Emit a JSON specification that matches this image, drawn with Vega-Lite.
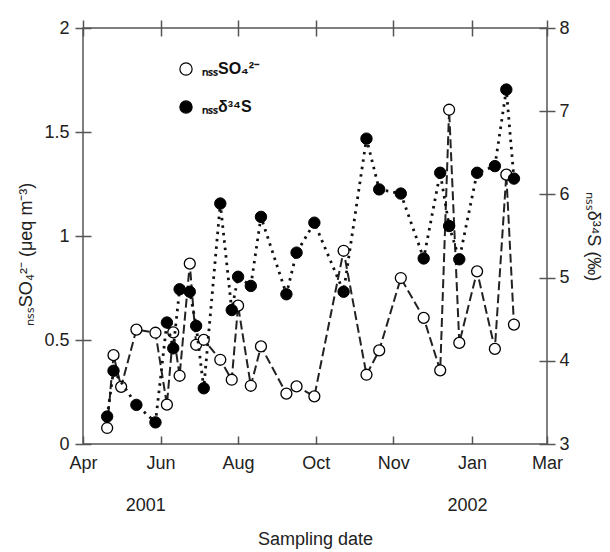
{
  "$schema": "https://vega.github.io/schema/vega-lite/v6.json",
  "width": 464,
  "height": 416,
  "autosize": {"type": "none"},
  "padding": {"left": 83, "top": 28, "right": 63, "bottom": 108},
  "background": "white",
  "config": {
    "font": "Liberation Sans",
    "view": {"stroke": "#555", "strokeWidth": 1.5},
    "axis": {
      "labelFont": "Liberation Sans",
      "labelFontSize": 18,
      "labelColor": "#222",
      "tickColor": "#555",
      "tickWidth": 1.5,
      "domain": false,
      "grid": false,
      "titleFont": "Liberation Sans",
      "titleColor": "#222",
      "titleFontWeight": "normal",
      "titleFontSize": 18
    },
    "legend": {"padding": 0}
  },
  "data": {
    "values": [
      {"date": "2001-04-20", "so4": 0.077, "d34s": 3.33},
      {"date": "2001-04-25", "so4": 0.427, "d34s": 3.88},
      {"date": "2001-05-01", "so4": 0.275, "d34s": null},
      {"date": "2001-05-13", "so4": 0.55, "d34s": 3.47},
      {"date": "2001-05-28", "so4": 0.535, "d34s": 3.26},
      {"date": "2001-06-06", "so4": 0.189, "d34s": 4.46},
      {"date": "2001-06-11", "so4": 0.537, "d34s": 4.15},
      {"date": "2001-06-16", "so4": 0.328, "d34s": 4.86},
      {"date": "2001-06-24", "so4": 0.867, "d34s": 4.83},
      {"date": "2001-06-29", "so4": 0.477, "d34s": 4.42},
      {"date": "2001-07-05", "so4": 0.501, "d34s": 3.67},
      {"date": "2001-07-18", "so4": 0.405, "d34s": 5.89},
      {"date": "2001-07-27", "so4": 0.309, "d34s": 4.61},
      {"date": "2001-08-01", "so4": 0.665, "d34s": 5.01},
      {"date": "2001-08-11", "so4": 0.28, "d34s": 4.9},
      {"date": "2001-08-19", "so4": 0.469, "d34s": 5.73},
      {"date": "2001-09-08", "so4": 0.242, "d34s": 4.8},
      {"date": "2001-09-16", "so4": 0.277, "d34s": 5.3},
      {"date": "2001-09-30", "so4": 0.229, "d34s": 5.66},
      {"date": "2001-10-23", "so4": 0.929, "d34s": 4.83},
      {"date": "2001-11-10", "so4": 0.333, "d34s": 6.67},
      {"date": "2001-11-20", "so4": 0.45, "d34s": 6.06},
      {"date": "2001-12-07", "so4": 0.798, "d34s": 6.01},
      {"date": "2001-12-25", "so4": 0.606, "d34s": 5.23},
      {"date": "2002-01-07", "so4": 0.354, "d34s": 6.26},
      {"date": "2002-01-14", "so4": 1.607, "d34s": 5.62},
      {"date": "2002-01-22", "so4": 0.486, "d34s": 5.22},
      {"date": "2002-02-05", "so4": 0.83, "d34s": 6.26},
      {"date": "2002-02-19", "so4": 0.457, "d34s": 6.34},
      {"date": "2002-02-28", "so4": 1.295, "d34s": 7.26},
      {"date": "2002-03-06", "so4": 0.574, "d34s": 6.19}
    ]
  },
  "layer": [
    {
      "layer": [
        {
          "mark": {"type": "line", "strokeDash": [9, 4], "strokeWidth": 2, "color": "#222"},
          "encoding": {
            "x": {
              "field": "date", "type": "temporal",
              "scale": {"type": "utc", "domain": [{"year": 2001, "month": 4, "date": 1, "utc": true}, {"year": 2002, "month": 4, "date": 1, "utc": true}]},
              "axis": {
                "orient": "bottom",
                "values": [
                  {"year": 2001, "month": 4, "date": 1, "utc": true},
                  {"year": 2001, "month": 6, "date": 1, "utc": true},
                  {"year": 2001, "month": 8, "date": 1, "utc": true},
                  {"year": 2001, "month": 10, "date": 1, "utc": true},
                  {"year": 2001, "month": 12, "date": 1, "utc": true},
                  {"year": 2002, "month": 2, "date": 1, "utc": true},
                  {"year": 2002, "month": 4, "date": 1, "utc": true}
                ],
                "labelExpr": "['Apr','Jun','Aug','Oct','Nov','Jan','Mar'][((utcyear(datum.value)-2001)*12+utcmonth(datum.value)-3)/2]",
                "offset": -8,
                "tickSize": 8,
                "labelPadding": 10,
                "labelFlush": false,
                "labelOverlap": false,
                "title": null
              }
            },
            "y": {
              "field": "so4", "type": "quantitative",
              "scale": {"domain": [0, 2]},
              "axis": {
                "orient": "left",
                "values": [0, 0.5, 1, 1.5, 2],
                "format": "~g",
                "offset": -8,
                "tickSize": 16,
                "labelPadding": 6,
                "labelFlush": false,
                "title": "ₙₛₛSO₄²⁻ (μeq m⁻³)",
                "titlePadding": 8,
                "titleY": 226
              }
            }
          }
        },
        {
          "mark": {"type": "point", "shape": "circle", "size": 120, "filled": true, "stroke": "black", "strokeWidth": 1.3, "opacity": 1},
          "encoding": {
            "x": {
              "field": "date", "type": "temporal",
              "axis": {
                "orient": "bottom",
                "values": [
                  {"year": 2001, "month": 5, "date": 20, "utc": true},
                  {"year": 2002, "month": 1, "date": 28, "utc": true}
                ],
                "labelExpr": "utcFormat(datum.value, '%Y')",
                "ticks": false,
                "tickSize": 0,
                "labelPadding": 52,
                "labelFlush": false,
                "title": "Sampling date",
                "titlePadding": 16
              }
            },
            "y": {"field": "so4", "type": "quantitative"},
            "fill": {
              "datum": "ₙₛₛSO₄²⁻",
              "scale": {"domain": ["ₙₛₛSO₄²⁻", "ₙₛₛδ³⁴S"], "range": ["white", "black"]},
              "legend": {
                "orient": "none",
                "legendX": 95,
                "legendY": 33,
                "title": null,
                "direction": "vertical",
                "symbolType": "circle",
                "symbolSize": 150,
                "symbolStrokeColor": "black",
                "symbolStrokeWidth": 1.2,
                "labelFont": "Liberation Sans",
                "labelFontSize": 16,
                "labelFontWeight": "bold",
                "labelColor": "#111",
                "labelOffset": 8,
                "rowPadding": 20
              }
            }
          }
        }
      ],
      "resolve": {"axis": {"x": "independent"}}
    },
    {
      "transform": [{"filter": "isValid(datum.d34s)"}],
      "layer": [
        {
          "mark": {"type": "line", "strokeDash": [2.5, 5], "strokeWidth": 2.8, "color": "#111"},
          "encoding": {
            "x": {
              "field": "date", "type": "temporal",
              "axis": {
                "orient": "top",
                "values": [
                  {"year": 2001, "month": 4, "date": 1, "utc": true},
                  {"year": 2001, "month": 6, "date": 1, "utc": true},
                  {"year": 2001, "month": 8, "date": 1, "utc": true},
                  {"year": 2001, "month": 10, "date": 1, "utc": true},
                  {"year": 2001, "month": 12, "date": 1, "utc": true},
                  {"year": 2002, "month": 2, "date": 1, "utc": true},
                  {"year": 2002, "month": 4, "date": 1, "utc": true}
                ],
                "labels": false,
                "offset": -8,
                "tickSize": 16,
                "title": null
              }
            },
            "y": {
              "field": "d34s", "type": "quantitative",
              "scale": {"domain": [3, 8]},
              "axis": {
                "orient": "right",
                "values": [3, 4, 5, 6, 7, 8],
                "format": "~g",
                "offset": -8,
                "tickSize": 16,
                "labelPadding": 4,
                "labelFlush": false,
                "title": "ₙₛₛδ³⁴S (‰)",
                "titlePadding": 14
              }
            }
          }
        },
        {
          "mark": {"type": "point", "shape": "circle", "size": 130, "filled": true, "stroke": "black", "strokeWidth": 1, "opacity": 1},
          "encoding": {
            "x": {"field": "date", "type": "temporal", "axis": null},
            "y": {"field": "d34s", "type": "quantitative"},
            "fill": {"datum": "ₙₛₛδ³⁴S"}
          }
        }
      ],
      "resolve": {"axis": {"x": "independent"}}
    }
  ],
  "resolve": {"scale": {"y": "independent"}, "axis": {"x": "independent"}}
}
